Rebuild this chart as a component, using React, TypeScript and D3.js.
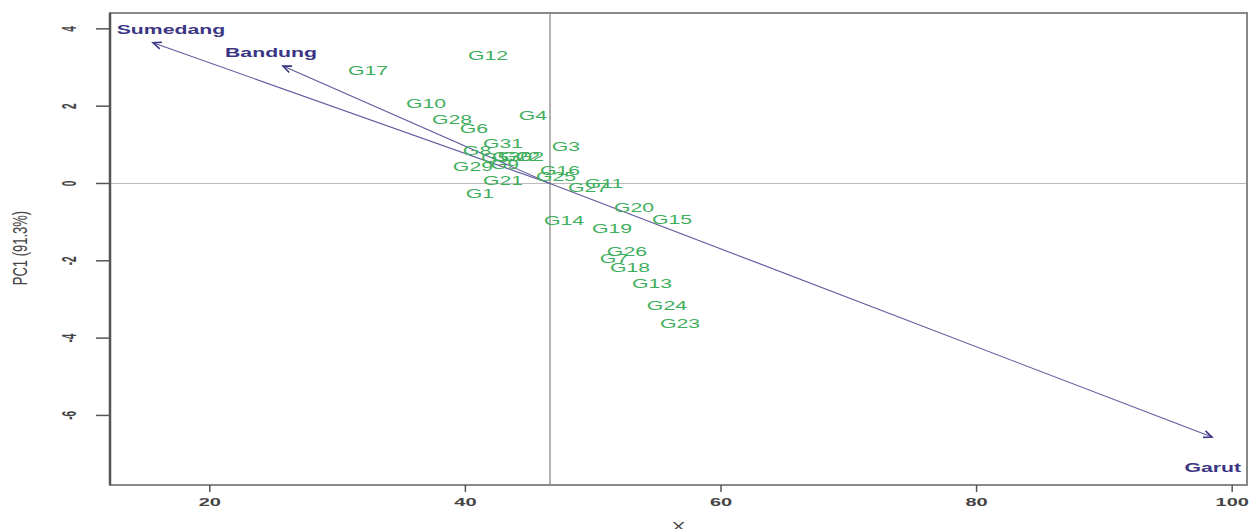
import React from "react";
import * as d3 from "d3";

// genotype scores (PC2 on x, PC1 on y)
const genotypes = [
  "G1", "G2", "G3", "G4", "G5", "G6", "G7", "G8", "G9", "G10",
  "G11", "G12", "G13", "G14", "G15", "G16", "G17", "G18", "G19", "G20",
  "G21", "G22", "G23", "G24", "G25", "G26", "G27", "G28", "G29", "G30", "G31",
];
const scoreX = [
  41.14, 45.05, 47.87, 45.29, 42.32, 40.67, 51.63, 40.91, 43.1, 36.92,
  50.85, 41.77, 54.6, 47.72, 56.17, 47.4, 32.38, 52.88, 51.47, 53.19,
  42.94, 44.27, 56.79, 55.77, 47.09, 52.64, 49.59, 38.95, 40.59, 43.65, 42.94,
];
const scoreY = [
  -0.27, 0.69, 0.94, 1.75, 0.66, 1.41, -1.95, 0.84, 0.48, 2.06,
  -0.01, 3.3, -2.58, -0.97, -0.94, 0.32, 2.91, -2.19, -1.18, -0.63,
  0.06, 0.69, -3.64, -3.17, 0.17, -1.77, -0.12, 1.64, 0.43, 0.69, 1.02,
];

// environment vectors
const envNames = ["Sumedang", "Bandung", "Garut"];
const envX = [15.56, 25.73, 98.42];
const envY = [3.64, 3.04, -6.56];
const envLabelX = [16.96, 24.79, 98.48];
const envLabelY = [3.97, 3.38, -7.36];

const originX = 46.62;
const originY = 0;

const xTicks = [20, 40, 60, 80, 100];
const yTicks = [4, 2, 0, -2, -4, -6];

const W = 1249;
const H = 529;
const SX = 1.7; // the picture is stretched sideways

export default function App() {
  const x = d3.scaleLinear().domain([12.19, 101.16]).range([110, 1247]);
  const y = d3.scaleLinear().domain([-7.8, 4.41]).range([485, 13]);

  const font = "'Liberation Sans', Arial, sans-serif";
  const green = "#3fae5c";
  const purple = "#3b3584";

  const arrowHead = (i: number) => {
    const x0 = x(originX), y0 = y(originY);
    const x1 = x(envX[i]), y1 = y(envY[i]);
    const a = Math.atan2(y1 - y0, x1 - x0);
    const len = 9;
    const p1 = [x1 - len * Math.cos(a - 0.4), y1 - len * Math.sin(a - 0.4)];
    const p2 = [x1 - len * Math.cos(a + 0.4), y1 - len * Math.sin(a + 0.4)];
    return `M${p1[0]},${p1[1]}L${x1},${y1}L${p2[0]},${p2[1]}`;
  };

  return (
    <svg width={W} height={H} style={{ position: "absolute", left: 0, top: 0, background: "#fff" }} fontFamily={font}>
      {/* reference lines */}
      <line x1={x(originX)} x2={x(originX)} y1={13} y2={485} stroke="#aaa" strokeWidth={1.8} />
      <line x1={110} x2={1247} y1={y(0)} y2={y(0)} stroke="#bbb" strokeWidth={1} />

      {/* box */}
      <rect x={110} y={13} width={1137} height={472} fill="none" stroke="#888" strokeWidth={2} />
      <line x1={110} x2={110} y1={13} y2={485} stroke="#555" strokeWidth={2.5} />

      {/* x axis */}
      {xTicks.map((t) => (
        <g key={"x" + t}>
          <line x1={x(t)} x2={x(t)} y1={485} y2={492} stroke="#555" strokeWidth={1.5} />
          <text transform={`translate(${x(t)},506) scale(2,1)`} textAnchor="middle" fontSize={10} fontWeight="bold" fill="#444">
            {t}
          </text>
        </g>
      ))}
      <text transform={`translate(${(110 + 1247) / 2},531) scale(1.7,1)`} textAnchor="middle" fontSize={12} fill="#444">
        X
      </text>

      {/* y axis */}
      {yTicks.map((t) => (
        <g key={"y" + t}>
          <line x1={96} x2={110} y1={y(t)} y2={y(t)} stroke="#555" strokeWidth={1.5} />
          <text transform={`translate(76,${y(t)}) scale(2,1) rotate(-90)`} textAnchor="middle" fontSize={10} fontWeight="bold" fill="#444">
            {t}
          </text>
        </g>
      ))}
      <text transform={`translate(27,248) scale(1.6,1) rotate(-90)`} textAnchor="middle" fontSize={13} fill="#444">
        PC1 (91.3%)
      </text>

      {/* environment vectors */}
      {envNames.map((n, i) => (
        <g key={n}>
          <line x1={x(originX)} y1={y(originY)} x2={x(envX[i])} y2={y(envY[i])} stroke="#5c5a9c" strokeWidth={1.1} />
          <path d={arrowHead(i)} fill="none" stroke="#3b3584" strokeWidth={1.6} />
          <text
            transform={`translate(${x(envLabelX[i])},${y(envLabelY[i])}) scale(${SX},1)`}
            textAnchor="middle"
            dominantBaseline="central"
            fontSize={12.5}
            fontWeight="bold"
            fill={purple}
          >
            {n}
          </text>
        </g>
      ))}

      {/* genotype labels */}
      {genotypes.map((g, i) => (
        <text
          key={g}
          transform={`translate(${x(scoreX[i])},${y(scoreY[i])}) scale(${SX},1)`}
          textAnchor="middle"
          dominantBaseline="central"
          fontSize={12.5}
          fill={green}
        >
          {g}
        </text>
      ))}
    </svg>
  );
}
